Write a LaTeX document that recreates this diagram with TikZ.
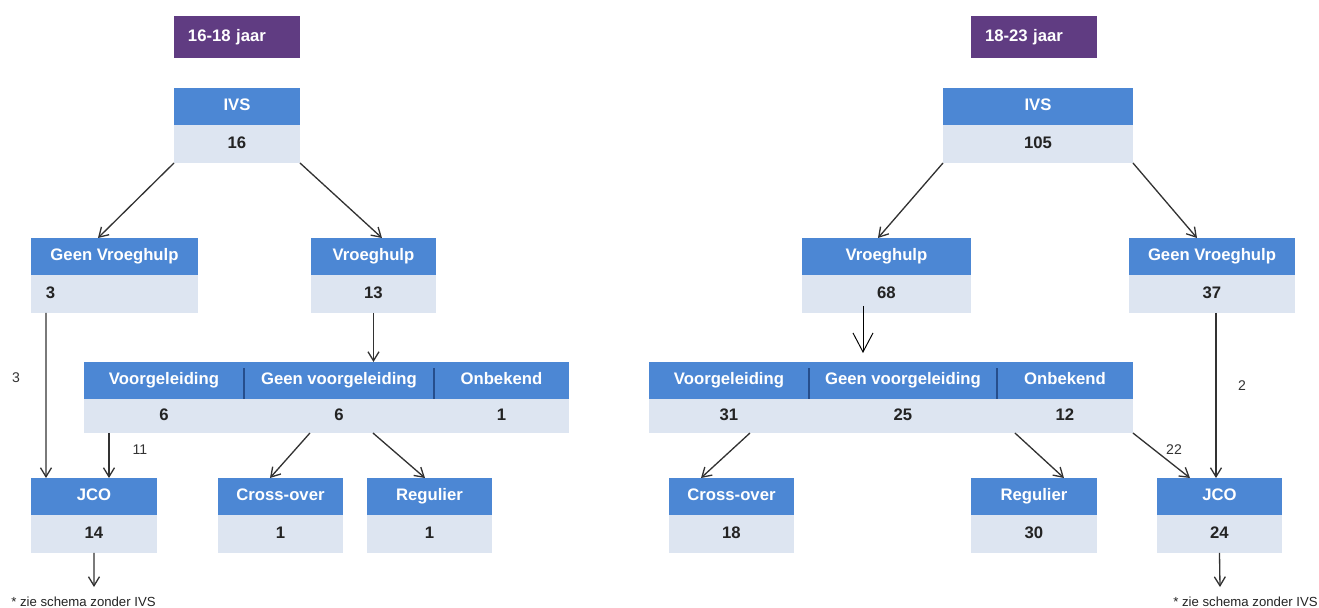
\documentclass[tikz,border=0pt]{standalone}
\usepackage{fontspec}
\setmainfont{Liberation Sans}
\usetikzlibrary{arrows.meta,positioning}
\definecolor{AgePurple}{RGB}{96,60,130}
\definecolor{HdrBlue}{RGB}{76,135,212}
\definecolor{ValBlue}{RGB}{221,229,241}
\definecolor{ValText}{RGB}{35,35,35}
\definecolor{DivBlue}{RGB}{38,78,140}
\definecolor{LineGray}{RGB}{50,50,50}
\tikzset{
    box/.style={rectangle, inner sep=0pt, outer sep=0pt, text centered, text height=0.72em, text depth=0.22em},
    hdr/.style={box, fill=HdrBlue, text=white, minimum height=0.74cm, anchor=north west, font=\bfseries\fontsize{9.5}{11}\selectfont},
    val/.style={box, fill=ValBlue, text=ValText, minimum height=0.76cm, font=\bfseries\fontsize{9.5}{11}\selectfont},
    tval/.style={val, minimum height=0.68cm},
    age/.style={box, fill=AgePurple, text=white, minimum height=0.84cm, anchor=north west, text width=1.96cm, inner xsep=0.28cm, align=left, font=\bfseries\fontsize{9.5}{11}\selectfont},
    divider/.style={DivBlue, line width=0.8pt},
    connection/.style={-{Straight Barb[length=1.8mm,width=2.2mm]}, LineGray, line width=0.75pt},
    bigarrow/.style={-{Straight Barb[length=3.8mm,width=4mm]}, black, line width=0.55pt},
    lbl/.style={inner sep=0pt, text=LineGray, font=\fontsize{8}{9}\selectfont},
    foot/.style={inner sep=0pt, text=ValText, font=\fontsize{7.5}{9}\selectfont}
}
\begin{document}
\begin{tikzpicture}[x=0.02cm, y=-0.02cm]
\useasboundingbox (0,0) rectangle (1319,608);

% 16-18 jaar
\node (age1) [age] at (174,16) {16-18 jaar};

\node (ivs1) [hdr, minimum width=2.52cm] at (174,88) {IVS};
\node (ivs1v) [val, minimum width=2.52cm, below=0pt of ivs1] {16};

\node (geen1) [hdr, minimum width=3.34cm] at (31,238) {Geen Vroeghulp};
\node (geen1v) [val, below=0pt of geen1, text width=2.74cm, inner xsep=0.3cm, align=left] {3};
\node (vh1) [hdr, minimum width=2.5cm] at (311,238) {Vroeghulp};
\node (vh1v) [val, minimum width=2.5cm, below=0pt of vh1] {13};

% Table
\node (tab1a) [hdr, minimum width=3.2cm] at (84,362) {Voorgeleiding};
\node (tab1b) [hdr, minimum width=3.8cm, right=0pt of tab1a] {Geen voorgeleiding};
\node (tab1c) [hdr, minimum width=2.7cm, right=0pt of tab1b] {Onbekend};
\node (tab1av) [tval, minimum width=3.2cm, below=0pt of tab1a] {6};
\node (tab1bv) [tval, minimum width=3.8cm, below=0pt of tab1b] {6};
\node (tab1cv) [tval, minimum width=2.7cm, below=0pt of tab1c] {1};
\draw [divider] ([yshift=-0.12cm]tab1a.north east) -- (tab1a.south east);
\draw [divider] ([yshift=-0.12cm]tab1b.north east) -- (tab1b.south east);

\node (jco1) [hdr, minimum width=2.52cm] at (31,478) {JCO};
\node (jco1v) [val, minimum width=2.52cm, below=0pt of jco1] {14};
\node (cross1) [hdr, minimum width=2.5cm] at (218,478) {Cross-over};
\node (cross1v) [val, minimum width=2.5cm, below=0pt of cross1] {1};
\node (reg1) [hdr, minimum width=2.5cm] at (367,478) {Regulier};
\node (reg1v) [val, minimum width=2.5cm, below=0pt of reg1] {1};

\coordinate (end1) at (94,587);
\node (foot1) [foot, anchor=west] at (11,602) {* zie schema zonder IVS};
\node (l3) [lbl] at (16,378) {3};
\node (l11) [lbl] at (140,450) {11};

% Connections
\draw [connection] (ivs1v.south west) -- ([xshift=-0.33cm]geen1.north);
\draw [connection] (ivs1v.south east) -- ([xshift=0.17cm]vh1.north);
\draw [connection] (vh1v.south) -- (vh1v.south |- tab1b.north);
\draw [connection] ([xshift=0.3cm]geen1v.south west) -- ([xshift=0.3cm]jco1.north west);
\draw [connection] ([xshift=0.5cm]tab1av.south west) -- ([xshift=0.5cm]tab1av.south west |- jco1.north);
\draw [connection] ([xshift=1.32cm]tab1bv.south west) -- ([xshift=-0.21cm]cross1.north);
\draw [connection] ([xshift=2.58cm]tab1bv.south west) -- ([xshift=-0.09cm]reg1.north);
\draw [connection] (jco1v.south) -- (end1);

% 18-23 jaar
\node (age2) [age] at (971,16) {18-23 jaar};

\node (ivs2) [hdr, minimum width=3.8cm] at (943,88) {IVS};
\node (ivs2v) [val, minimum width=3.8cm, below=0pt of ivs2] {105};

\node (vh2) [hdr, minimum width=3.38cm] at (802,238) {Vroeghulp};
\node (vh2v) [val, minimum width=3.38cm, below=0pt of vh2] {68};
\node (geen2) [hdr, minimum width=3.32cm] at (1129,238) {Geen Vroeghulp};
\node (geen2v) [val, minimum width=3.32cm, below=0pt of geen2] {37};

% Table
\node (tab2a) [hdr, minimum width=3.2cm] at (649,362) {Voorgeleiding};
\node (tab2b) [hdr, minimum width=3.76cm, right=0pt of tab2a] {Geen voorgeleiding};
\node (tab2c) [hdr, minimum width=2.72cm, right=0pt of tab2b] {Onbekend};
\node (tab2av) [tval, minimum width=3.2cm, below=0pt of tab2a] {31};
\node (tab2bv) [tval, minimum width=3.76cm, below=0pt of tab2b] {25};
\node (tab2cv) [tval, minimum width=2.72cm, below=0pt of tab2c] {12};
\draw [divider] ([yshift=-0.12cm]tab2a.north east) -- (tab2a.south east);
\draw [divider] ([yshift=-0.12cm]tab2b.north east) -- (tab2b.south east);

\node (cross2) [hdr, minimum width=2.5cm] at (669,478) {Cross-over};
\node (cross2v) [val, minimum width=2.5cm, below=0pt of cross2] {18};
\node (reg2) [hdr, minimum width=2.52cm] at (971,478) {Regulier};
\node (reg2v) [val, minimum width=2.52cm, below=0pt of reg2] {30};
\node (jco2) [hdr, minimum width=2.5cm] at (1157,478) {JCO};
\node (jco2v) [val, minimum width=2.5cm, below=0pt of jco2] {24};

\coordinate (end2) at (1220,587);
\node (foot2) [foot, anchor=east] at (1318,602) {* zie schema zonder IVS};
\node (l2) [lbl] at (1242,386) {2};
\node (l22) [lbl] at (1174,450) {22};

% Connections
\draw [connection] (ivs2v.south west) -- ([xshift=-0.17cm]vh2.north);
\draw [connection] (ivs2v.south east) -- ([xshift=-0.3cm]geen2.north);
\draw [bigarrow, shorten <=-0.14cm, shorten >=0.18cm] ([xshift=-0.47cm]vh2v.south) -- ([xshift=-0.47cm]vh2v.south |- tab2b.north);
\draw [connection] ([xshift=0.08cm]geen2v.south) -- ([xshift=0.08cm]geen2v.south |- jco2.north);
\draw [connection] ([xshift=2.02cm]tab2av.south west) -- ([xshift=-0.61cm]cross2.north);
\draw [connection] ([xshift=0.36cm]tab2cv.south west) -- ([xshift=0.6cm]reg2.north);
\draw [connection] (tab2cv.south east) -- ([xshift=-0.59cm]jco2.north);
\draw [connection] (jco2v.south) -- (end2);

\end{tikzpicture}
\end{document}
